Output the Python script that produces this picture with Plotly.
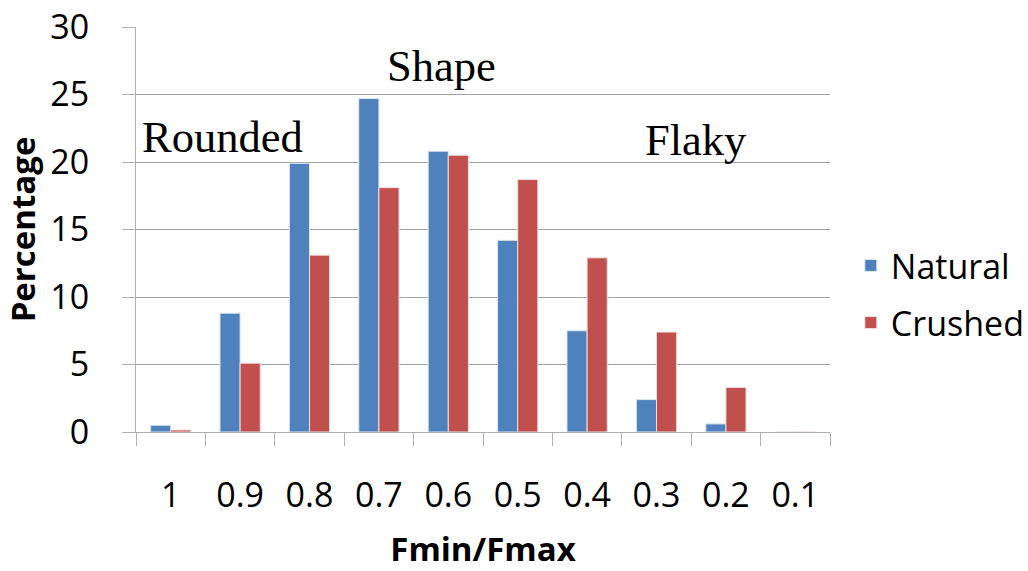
import plotly.graph_objects as go

categories = ["1", "0.9", "0.8", "0.7", "0.6", "0.5", "0.4", "0.3", "0.2", "0.1"]
natural = [0.5, 8.8, 19.9, 24.7, 20.8, 14.2, 7.5, 2.4, 0.6, 0.0]
crushed = [0.15, 5.1, 13.1, 18.1, 20.5, 18.7, 12.9, 7.4, 3.3, 0.0]
y_ticks = [0, 5, 10, 15, 20, 25, 30]

FONT = "Open Sans"
GRID = "#a3a3a3"
AXIS = "#b0b0b0"

fig = go.Figure()
fig.add_trace(go.Bar(x=categories, y=natural, name="Natural",
                     marker=dict(color="#4F81BD", line=dict(color="#dfe7f2", width=1)),
                     legendgroup="a"))
fig.add_trace(go.Bar(x=categories, y=crushed, name="Crushed",
                     marker=dict(color="#C0504D", line=dict(color="#f2dede", width=1)),
                     legendgroup="b"))

fig.update_layout(
    width=1028, height=571,
    margin=dict(l=136, r=198, t=27, b=139, autoexpand=False),
    paper_bgcolor="white", plot_bgcolor="white",
    barmode="group", bargap=0.42, bargroupgap=0,
    font=dict(family=FONT, size=34, color="black"),
    legend=dict(x=1.03, y=0.34, xanchor="left", yanchor="middle",
                font=dict(family=FONT, size=34), traceorder="grouped",
                tracegroupgap=10, bgcolor="rgba(0,0,0,0)"),
    xaxis=dict(
        type="category", showline=True, linecolor=AXIS, linewidth=1,
        ticks="outside", ticklen=13, tickcolor=AXIS, tickson="boundaries",
        tickfont=dict(family=FONT, size=34), ticklabelstandoff=33,
        showgrid=False, automargin=False,
        title=dict(text="<b>Fmin/Fmax</b>", font=dict(family=FONT, size=33), standoff=28),
    ),
    yaxis=dict(
        range=[0, 30], tickvals=y_ticks, showline=True, linecolor=AXIS, linewidth=1,
        ticks="outside", ticklen=13, tickcolor=AXIS,
        tickfont=dict(family=FONT, size=34), ticklabelstandoff=26,
        showgrid=True, gridcolor=GRID, gridwidth=1, zeroline=False, automargin=False,
        title=dict(text="<b>Percentage</b>", font=dict(family=FONT, size=33), standoff=8),
    ),
)

serif = dict(family="Liberation Serif", size=44.5, color="black")
fig.add_annotation(x=0.125, xref="paper", y=21.85, yref="y", text="Rounded",
                   showarrow=False, font=serif, xanchor="center", yanchor="middle")
fig.add_annotation(x=0.44, xref="paper", y=27.1, yref="y", text="Shape",
                   showarrow=False, font=serif, xanchor="center", yanchor="middle")
fig.add_annotation(x=0.807, xref="paper", y=21.6, yref="y", text="Flaky",
                   showarrow=False, font=serif, xanchor="center", yanchor="middle")

fig.write_html("out.html")
